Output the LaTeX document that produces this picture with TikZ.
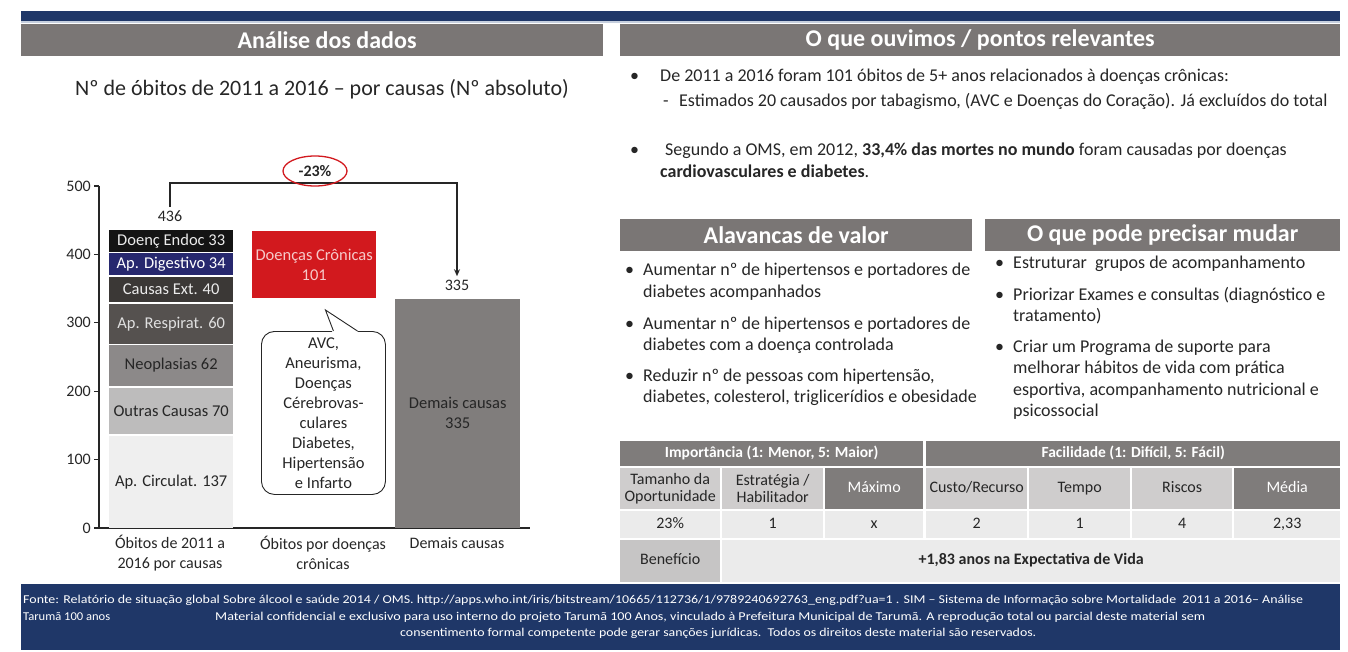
\documentclass[tikz,border=0pt]{standalone}
\usepackage{fontspec}
\setmainfont{Carlito}
\usepackage{graphicx}
\usetikzlibrary{arrows.meta,shapes.geometric}
\definecolor{navy}{HTML}{1F3768}
\definecolor{navyline}{HTML}{C5CEDD}
\definecolor{hdrgray}{HTML}{7A7675}
\definecolor{txt}{HTML}{262626}
\definecolor{cCirc}{HTML}{EFEFEF}
\definecolor{cOutr}{HTML}{BDBCBC}
\definecolor{cNeo}{HTML}{8C8989}
\definecolor{cResp}{HTML}{55514F}
\definecolor{cExt}{HTML}{3B3836}
\definecolor{cDig}{HTML}{27286E}
\definecolor{cEnd}{HTML}{141414}
\definecolor{cRed}{HTML}{D2191E}
\definecolor{cPink}{HTML}{F6C9C9}
\definecolor{cDem}{HTML}{807D7C}
\definecolor{tDark}{HTML}{7F7C7B}
\definecolor{tMid}{HTML}{CFCDCD}
\definecolor{tLight}{HTML}{EBEBEB}
\definecolor{tBen}{HTML}{C6C5C5}
\newcommand\fsz[2]{\fontsize{#1}{#2}\selectfont}
\begin{document}
\begin{tikzpicture}[x=1pt,y=-1pt,
  hdr/.style={fill=hdrgray,anchor=north west,inner sep=0pt,minimum height=32pt},
  hdrtext/.style={text=white,inner sep=0pt,font=\fsz{24}{28}\bfseries},
  seg/.style={anchor=south west,minimum width=124pt,inner sep=0pt,font=\fsz{16.5}{20}},
  ticklab/.style={anchor=east,font=\fsz{16}{19},text=txt,inner sep=1pt},
  numlab/.style={font=\fsz{16}{19},text=txt},
  xlab/.style={align=center,font=\fsz{16}{20},text=txt},
  btext/.style={anchor=base west,inner sep=0pt,font=\fsz{18}{21},text=txt},
  bul/.style={anchor=base west,inner sep=0pt,font=\fsz{18}{21},text=txt},
  tcell/.style={anchor=north west,inner sep=0pt,align=center,font=\fsz{16}{17}},
  tone/.style={text height=11pt,text depth=3.5pt},
  foot/.style={anchor=base west,inner sep=0pt,text=white,font=\fsz{12}{14}},
  axisline/.style={draw=txt,line width=1.1pt},
  bracket/.style={draw=txt,line width=1.6pt,-{Stealth[length=7pt,width=6pt]}},
]
\useasboundingbox (0,0) rectangle (1348,652);
% top bar
\fill[navy] (21,11) rectangle (1340,21);
\fill[navyline] (21,21) rectangle (1340,23);
% headers
\node[hdr,minimum width=582pt] (hA) at (21,24) {};
\node[hdrtext] (hAt) at (327,40) {Análise dos dados};
\node[hdr,minimum width=720pt] (hB) at (620,24) {};
\node[hdrtext] (hBt) at (hB.center) {O que ouvimos / pontos relevantes};
\node[font=\fsz{22}{26},text=txt] (sub) at (322,89) {Nº de óbitos de 2011 a 2016 – por causas (Nº absoluto)};

% axes
\draw[axisline] (99,186) -- (99,528) -- (530,528);
\foreach \v in {0,1,2,3,4,5} {
  \pgfmathsetmacro\yy{528-68.4*\v}
  \pgfmathtruncatemacro\lab{\v*100}
  \draw[axisline] (94,\yy) -- (99,\yy);
  \node[ticklab] (tick\v) at (92,\yy) {\lab};
}
% stacked bar
\node[seg,fill=cCirc,minimum height=92.3pt,text=txt] (sCirc) at (109,528) {Ap. Circulat. 137};
\node[seg,fill=cOutr,minimum height=46.5pt,text=txt] (sOutr) at (109,434.2) {Outras Causas 70};
\node[seg,fill=cNeo,minimum height=41pt,text=txt] (sNeo) at (109,386.2) {Neoplasias 62};
\node[seg,fill=cResp,minimum height=39.6pt,text=white!88!black] (sResp) at (109,343.7) {Ap. Respirat. 60};
\node[seg,fill=cExt,minimum height=25.9pt,text=white!92!black] (sExt) at (109,302.6) {Causas Ext. 40};
\node[seg,fill=cDig,minimum height=21.8pt,text=white] (sDig) at (109,275.2) {Ap. Digestivo 34};
\node[seg,fill=cEnd,minimum height=21.5pt,text=white!92!black] (sEnd) at (109,251.9) {Doenç Endoc 33};
\node[numlab] (n436) at (170,216) {436};
% chronic box
\node[fill=cRed,text=cPink,minimum width=124pt,minimum height=67pt,anchor=north west,align=center,font=\fsz{16.5}{20},inner sep=0pt] (dc) at (252,231) {Doenças Crônicas\\101};
% callout
\node[draw=txt,line width=0.9pt,rounded corners=13pt,fill=white,minimum width=124pt,minimum height=163pt,anchor=north west,inner sep=0pt,align=center,font=\fsz{16.5}{20},text=txt] (call) at (261,331) {AVC,\\Aneurisma,\\Doenças\\Cérebrovas-\\culares\\Diabetes,\\Hipertensão\\e Infarto};
\fill[white] ([xshift=9pt,yshift=-1.2pt]call.north) -- ([xshift=2pt,yshift=21pt]call.north) -- ([xshift=35pt,yshift=-1.2pt]call.north) -- cycle;
\draw[txt,line width=0.9pt,line join=miter] ([xshift=10pt]call.north) -- ([xshift=2pt,yshift=21pt]call.north) -- ([xshift=34pt]call.north);
% demais causas
\node[fill=cDem,text=txt,anchor=south west,minimum width=125pt,minimum height=229pt,align=center,font=\fsz{16.5}{20},inner sep=0pt] (dem) at (395,528) {Demais causas\\335};
\node[numlab] (n335) at (457,285) {335};
% bracket
\coordinate (bk) at (315,183);
\draw[bracket] (n436.north) |- (bk) -| (n335.north);
\node[draw=cRed,line width=1.3pt,ellipse,minimum width=64pt,minimum height=30pt,inner sep=0pt,font=\fsz{16}{19}\bfseries,text=txt] (pct) at (315,171) {-23\%};
% x labels
\node[xlab] (xl1) at (170,553) {Óbitos de 2011 a\\2016 por causas};
\node[xlab] (xl2) at (323,553) {Óbitos por doenças\\crônicas};
\node[xlab] (xl3) at (457,543) {Demais causas};

% top right bullets
\node[bul] (d1) at (630,82) {•};
\node[btext] (l1) at (660,82) {De 2011 a 2016 foram 101 óbitos de 5+ anos relacionados à doenças crônicas:};
\node[bul] (d1s) at (663,107) {-};
\node[btext] (l1s) at (679,107) {Estimados 20 causados por tabagismo, (AVC e Doenças do Coração). Já excluídos do total};
\node[bul] (d2) at (630,156) {•};
\node[btext] (l2) at (665,156) {Segundo a OMS, em 2012, \textbf{33,4\% das mortes no mundo} foram causadas por doenças};
\node[btext] (l2b) at (660,178) {\textbf{cardiovasculares e diabetes}.};

% sub headers
\node[hdr,minimum width=352pt,minimum height=32pt] (hC) at (620,219) {};
\node[hdrtext] (hCt) at (hC.center) {Alavancas de valor};
\node[hdr,minimum width=355pt,minimum height=32pt] (hD) at (985,219) {};
\node[hdrtext] (hDt) at (hD.center) {O que pode precisar mudar};

% left list
\node[bul] (a1d) at (625,276) {•};
\node[btext] (a1) at (643,276) {Aumentar nº de hipertensos e portadores de};
\node[btext] (a1b) at (643,297) {diabetes acompanhados};
\node[bul] (a2d) at (625,329) {•};
\node[btext] (a2) at (643,329) {Aumentar nº de hipertensos e portadores de};
\node[btext] (a2b) at (643,350) {diabetes com a doença controlada};
\node[bul] (a3d) at (625,381) {•};
\node[btext] (a3) at (643,381) {Reduzir nº de pessoas com hipertensão,};
\node[btext] (a3b) at (643,402) {diabetes, colesterol, triglicerídios e obesidade};
% right list
\node[bul] (m1d) at (995,268) {•};
\node[btext] (m1) at (1013,268) {Estruturar\ \ grupos de acompanhamento};
\node[bul] (m2d) at (995,300) {•};
\node[btext] (m2) at (1013,300) {Priorizar Exames e consultas (diagnóstico e};
\node[btext] (m2b) at (1013,321) {tratamento)};
\node[bul] (m3d) at (995,352) {•};
\node[btext] (m3) at (1013,352) {Criar um Programa de suporte para};
\node[btext] (m3b) at (1013,373) {melhorar hábitos de vida com prática};
\node[btext] (m3c) at (1013,395) {esportiva, acompanhamento nutricional e};
\node[btext] (m3d) at (1013,416) {psicossocial};

% table
\node[tcell,tone,fill=tDark,text=white,minimum width=303pt,minimum height=25pt,font=\fsz{15.5}{17}\bfseries] (tImp) at (620,441) {Importância (1: Menor, 5: Maior)};
\node[tcell,tone,fill=tDark,text=white,minimum width=414pt,minimum height=25pt,font=\fsz{15.5}{17}\bfseries] (tFac) at (926,441) {Facilidade (1: Difícil, 5: Fácil)};
\node[tcell,fill=tMid,text=txt,minimum width=100pt,minimum height=41pt] (c1) at (620,468) {Tamanho da\\Oportunidade};
\node[tcell,fill=tMid,text=txt,minimum width=101pt,minimum height=41pt] (c2) at (722,468) {Estratégia /\\Habilitador};
\node[tcell,tone,fill=tDark,text=white,minimum width=98pt,minimum height=41pt] (c3) at (825,468) {Máximo};
\node[tcell,tone,fill=tMid,text=txt,minimum width=101pt,minimum height=41pt] (c4) at (926,468) {Custo/Recurso};
\node[tcell,tone,fill=tMid,text=txt,minimum width=101pt,minimum height=41pt] (c5) at (1029,468) {Tempo};
\node[tcell,tone,fill=tMid,text=txt,minimum width=100pt,minimum height=41pt] (c6) at (1132,468) {Riscos};
\node[tcell,tone,fill=tDark,text=white,minimum width=106pt,minimum height=41pt] (c7) at (1234,468) {Média};
\node[tcell,tone,fill=tLight,text=txt,minimum width=100pt,minimum height=27pt] (v1) at (620,511) {23\%};
\node[tcell,tone,fill=tLight,text=txt,minimum width=101pt,minimum height=27pt] (v2) at (722,511) {1};
\node[tcell,tone,fill=tLight,text=txt,minimum width=98pt,minimum height=27pt] (v3) at (825,511) {x};
\node[tcell,tone,fill=tLight,text=txt,minimum width=101pt,minimum height=27pt] (v4) at (926,511) {2};
\node[tcell,tone,fill=tLight,text=txt,minimum width=101pt,minimum height=27pt] (v5) at (1029,511) {1};
\node[tcell,tone,fill=tLight,text=txt,minimum width=100pt,minimum height=27pt] (v6) at (1132,511) {4};
\node[tcell,tone,fill=tLight,text=txt,minimum width=106pt,minimum height=27pt] (v7) at (1234,511) {2,33};
\node[tcell,tone,fill=tBen,text=txt,minimum width=100pt,minimum height=42pt] (ben) at (620,540) {Benefício};
\node[tcell,tone,fill=tLight,text=txt,minimum width=618pt,minimum height=42pt,font=\fsz{16}{17}\bfseries] (benv) at (722,540) {+1,83 anos na Expectativa de Vida};

% footer
\fill[navy] (21,584) rectangle (1340,650);
\node[foot] (f1) at (23,603) {\resizebox{1280pt}{\height}{Fonte: Relatório de situação global Sobre álcool e saúde 2014 / OMS. http://apps.who.int/iris/bitstream/10665/112736/1/9789240692763\_eng.pdf?ua=1 . SIM – Sistema de Informação sobre Mortalidade\ \ 2011 a 2016– Análise}};
\node[foot] (f2a) at (23,620) {\resizebox{87pt}{\height}{Tarumã 100 anos}};
\node[foot] (f2b) at (215,620) {\resizebox{990pt}{\height}{Material confidencial e exclusivo para uso interno do projeto Tarumã 100 Anos, vinculado à Prefeitura Municipal de Tarumã. A reprodução total ou parcial deste material sem}};
\node[foot] (f3) at (400,636) {\resizebox{636pt}{\height}{consentimento formal competente pode gerar sanções jurídicas.\ \ Todos os direitos deste material são reservados.}};
\end{tikzpicture}
\end{document}
